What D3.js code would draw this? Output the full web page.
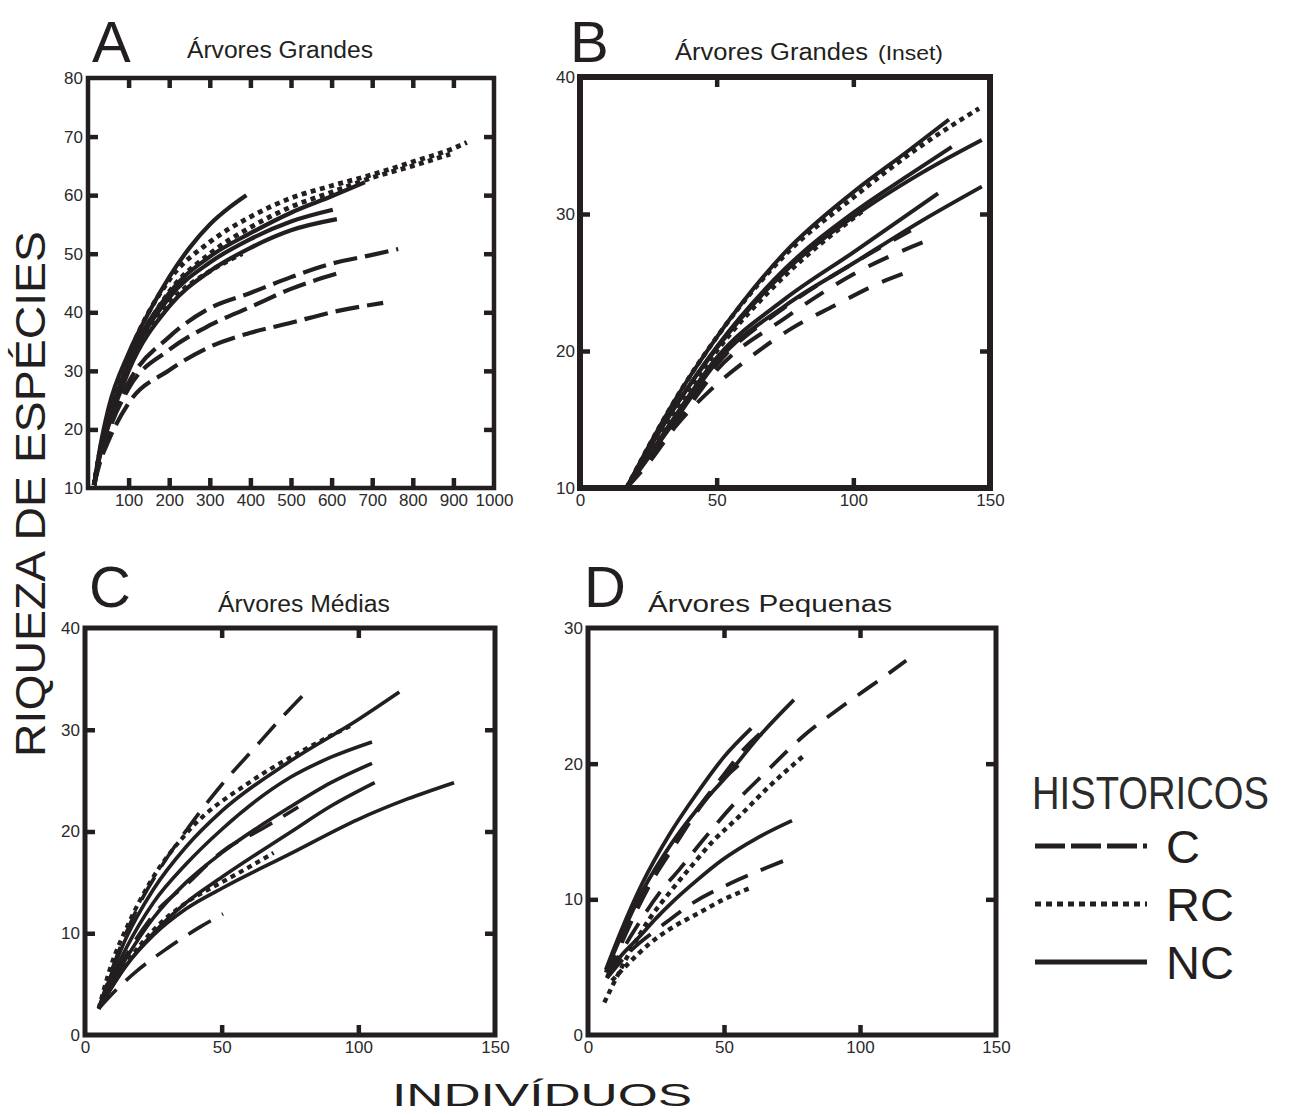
<!DOCTYPE html>
<html><head><meta charset="utf-8">
<script src="https://cdn.jsdelivr.net/npm/d3@7"></script>
<style>body{margin:0;background:#fff}svg{display:block}</style>
</head><body>
<svg id="c" width="1296" height="1116"></svg>
<script>
// ---------- DATA ----------
// group: C = dashed, RC = dotted, NC = solid
const curvesA = [
  {g:"NC", p:[[15,10.5],[30,17],[50,23.5],[100,33],[150,40],[200,46],[250,51],[300,55],[350,58],[390,60]]},
  {g:"RC", p:[[15,10.5],[30,16.5],[50,22],[100,32.5],[200,45.5],[300,52],[400,56.3],[500,59.5],[600,61.6],[700,63.5],[800,65.7],[900,68],[933,69]]},
  {g:"RC", p:[[15,10.5],[30,16.2],[50,21.5],[100,31],[200,43.5],[300,50],[400,54.5],[500,58],[600,60.5],[700,63],[800,65],[892,67]]},
  {g:"NC", p:[[15,10.5],[30,16.2],[50,21.5],[100,31.5],[200,43.3],[300,49.5],[400,53.5],[500,57],[600,59.8],[682,62.2]]},
  {g:"NC", p:[[15,10.5],[30,16],[50,21],[100,31],[200,42.5],[300,48.5],[400,52.5],[500,55.5],[603,57.5]]},
  {g:"NC", p:[[15,10.5],[30,15.7],[50,20.5],[100,30],[200,41],[300,47],[400,51],[500,54],[613,55.9]]},
  {g:"RC", p:[[15,10.5],[30,16],[50,21],[100,30.5],[200,41.5],[300,47],[380,50]]},
  {g:"C",  p:[[15,10.5],[30,15.5],[50,20],[100,28],[200,35.8],[300,40.7],[400,43.3],[500,46],[600,48.3],[700,49.8],[764,50.8]]},
  {g:"C",  p:[[15,10.5],[30,15.2],[50,19.5],[100,27],[200,33.6],[300,37.8],[400,40.9],[500,44],[628,46.9]]},
  {g:"C",  p:[[15,10.5],[30,14.5],[50,18],[100,24.5],[200,30.1],[300,34.1],[400,36.5],[500,38.2],[600,40],[727,41.6]]}
];
const curvesB = [
  {g:"RC", p:[[17,10],[25,13],[35,16.5],[50,21],[75,27],[100,31.2],[125,35],[146,37.7]]},
  {g:"NC", p:[[17,10],[25,13],[35,16.5],[50,21],[75,27.2],[100,31.6],[120,34.6],[135,36.9]]},
  {g:"NC", p:[[17,10],[25,12.8],[35,16],[50,20.3],[75,26],[100,30.1],[120,32.8],[136,34.9]]},
  {g:"NC", p:[[17,10],[25,12.8],[35,16],[50,20.2],[75,25.8],[100,29.8],[125,33],[147,35.4]]},
  {g:"RC", p:[[17,10],[25,12.7],[35,15.8],[50,20],[75,25.5],[104,30.3]]},
  {g:"NC", p:[[17,10],[25,12.3],[35,15.3],[50,19.5],[75,23.8],[100,27.2],[131,31.5]]},
  {g:"NC", p:[[17,10],[25,12.2],[35,15],[50,19.2],[75,23.3],[100,26.4],[125,29.5],[147,32]]},
  {g:"C",  p:[[17,10],[25,12],[35,14.8],[50,19],[75,23.2],[100,26.4],[121,28.8]]},
  {g:"C",  p:[[17,10],[25,12],[35,14.6],[50,18.6],[75,22.4],[100,25.6],[130,28.3]]},
  {g:"C",  p:[[17,10],[25,11.8],[35,14.5],[48,17.2],[62,19.5],[77,21.6],[93,23.3],[110,25],[119,25.7]]}
];
const curvesC = [
  {g:"C",  p:[[5,2.6],[12,8],[19.4,12.6],[28,16.6],[38.4,20.6],[49.4,24.4],[62,28.2],[72,31.2],[81.6,33.9]]},
  {g:"RC", p:[[5,2.6],[9,6.4],[16,11],[23.8,15],[38.4,20.2],[60,24.8],[80,28],[98,30.5]]},
  {g:"NC", p:[[5,2.6],[15,9.5],[25,14.3],[37,18.5],[50,22],[75,26.9],[100,31],[115,33.7]]},
  {g:"NC", p:[[5,2.6],[15,8.5],[25,13],[37,16.8],[50,20.2],[75,25.3],[90,27.3],[105,28.8]]},
  {g:"NC", p:[[5,2.6],[15,7.5],[25,11.5],[37,15],[50,17.9],[75,22.4],[90,24.8],[105,26.7]]},
  {g:"NC", p:[[5,2.6],[15,6.8],[25,10],[37,13],[50,15.5],[75,19.9],[90,22.5],[106,24.8]]},
  {g:"NC", p:[[5,2.6],[15,6.8],[25,9.8],[37,12.4],[50,14.4],[75,17.8],[100,21.2],[118,23.2],[135,24.8]]},
  {g:"C",  p:[[5,2.6],[15,7.8],[25,11.8],[38,15],[50,18],[65,20.3],[78,22.4]]},
  {g:"RC", p:[[5,2.6],[15,7],[25,10.3],[37,13],[50,15],[60,16.5],[69,17.9]]},
  {g:"C",  p:[[5,2.6],[12,4.6],[19,6.3],[30,8.5],[42,10.6],[50.5,11.9]]}
];
const curvesD = [
  {g:"C",  p:[[7,4.3],[17,7.7],[26,10.4],[34,12.3],[42,14.3],[54,17.1],[65,19.3],[79,22],[94,24.3],[109.5,26.5],[117,27.6]]},
  {g:"NC", p:[[6.5,4.8],[12,7.6],[20,11.2],[30,14.8],[40,17.8],[50,20.5],[60,22.6]]},
  {g:"NC", p:[[6.5,4.6],[12,7.2],[20,10.6],[30,13.9],[40,16.6],[50.6,19],[62.9,22],[75.7,24.7]]},
  {g:"C",  p:[[7,4.2],[12,6.8],[20,10.1],[30,13.6],[40,16.6],[50,19.2],[57,21],[65.4,22.6]]},
  {g:"C",  p:[[7,4.2],[14,7.5],[22,10.8],[32,14],[42,17],[50,18.9],[59,20.5]]},
  {g:"RC", p:[[6,2.4],[14,5.6],[22.4,8.5],[30,10.5],[37,12.2],[46,14.3],[55.5,16.1],[67,18.4],[79.4,20.6]]},
  {g:"NC", p:[[7.7,4.6],[12,5.8],[18.7,7.2],[25,8.6],[31,9.8],[40,11.4],[49.3,12.9],[62,14.5],[75,15.8]]},
  {g:"C",  p:[[7,4.2],[16.2,6.3],[26.8,8],[38.3,9.7],[52.6,11.2],[66.5,12.4],[74,13]]},
  {g:"RC", p:[[8.8,4],[15,5.3],[22.4,6.7],[30,7.8],[40.8,9],[50,10],[59.2,10.8]]}
];

// axis ticks and labels
const ticksA_x = [100,200,300,400,500,600,700,800,900];
const labelsA_x = [100,200,300,400,500,600,700,800,900,1000];
const ticksA_y = [20,30,40,50,60,70];
const labelsA_y = [10,20,30,40,50,60,70,80];
const ticksB_x = [50,100], labelsB_x = [0,50,100,150];
const ticksB_y = [20,30], labelsB_y = [10,20,30,40];
const ticksC_x = [50,100], labelsC_x = [0,50,100,150];
const ticksC_y = [10,20,30], labelsC_y = [0,10,20,30,40];
const ticksD_x = [50,100], labelsD_x = [0,50,100,150];
const ticksD_y = [10,20], labelsD_y = [0,10,20,30];

const legendGroups = ["C","RC","NC"];
const legendTitle = "HISTORICOS";
const yTitle = "RIQUEZA DE ESPÉCIES";
const xTitle = "INDIVÍDUOS";

// ---------- DRAW ----------
const INK = "#231f20";
const FONT = "'Liberation Sans', Arial, Helvetica, sans-serif";
const svg = d3.select("#c");

const panels = [
  {id:"A", title:"Árvores Grandes", curves:curvesA, xd:[0,1000], yd:[10,80],
   box:[88,78,494,488], frame:4.5, xt:ticksA_x, xl:labelsA_x, yt:ticksA_y, yl:labelsA_y,
   sw:4.2, dash:"24,8", dot:"5,4.5",
   letter:[92,62], titlePos:[187,58], titleLen:186},
  {id:"B", title:"Árvores Grandes", sub:"(Inset)", curves:curvesB, xd:[0,150], yd:[10,40],
   box:[580,77,990,488], frame:6, xt:ticksB_x, xl:labelsB_x, yt:ticksB_y, yl:labelsB_y,
   sw:4, dash:"22,15", dot:"5,4.5",
   letter:[570,62], titlePos:[675,60], titleLen:193},
  {id:"C", title:"Árvores Médias", curves:curvesC, xd:[0,150], yd:[0,40],
   box:[85,628,495,1035], frame:5, xt:ticksC_x, xl:labelsC_x, yt:ticksC_y, yl:labelsC_y,
   sw:3.6, dash:"26,13", dot:"5,4.5",
   letter:[89,607], titlePos:[218,612], titleLen:172},
  {id:"D", title:"Árvores Pequenas", curves:curvesD, xd:[0,150], yd:[0,30],
   box:[588,628,996,1035], frame:5, xt:ticksD_x, xl:labelsD_x, yt:ticksD_y, yl:labelsD_y,
   sw:3.8, dash:"24,14", dot:"5,4.5",
   letter:[584,607], titlePos:[648,612], titleLen:244}
];

function drawPanel(P){
  const [x0,y0,x1,y1] = P.box;
  const x = d3.scaleLinear().domain(P.xd).range([x0,x1]);
  const y = d3.scaleLinear().domain(P.yd).range([y1,y0]);
  const g = svg.append("g").attr("class","panel-"+P.id);

  const clip = "clip"+P.id;
  g.append("clipPath").attr("id",clip).append("rect")
    .attr("x",x0).attr("y",y0).attr("width",x1-x0).attr("height",y1-y0);

  const line = d3.line().x(d=>x(d[0])).y(d=>y(d[1])).curve(d3.curveMonotoneX);
  g.append("g").attr("clip-path",`url(#${clip})`)
   .selectAll("path").data(P.curves).join("path")
    .attr("d", d=>line(d.p))
    .attr("fill","none").attr("stroke",INK)
    .attr("stroke-width", d=> d.g==="RC" ? P.sw+0.6 : P.sw)
    .attr("stroke-linecap","butt")
    .attr("stroke-dasharray", d=> d.g==="C" ? P.dash : d.g==="RC" ? P.dot : null);

  // inner ticks on all four sides
  const tl = 10;
  const tickStyle = sel => { sel.select(".domain").remove();
    sel.selectAll("line").attr("stroke",INK).attr("stroke-width",4.5); sel.selectAll("text").remove(); };
  g.append("g").attr("transform",`translate(0,${y1})`)
    .call(d3.axisBottom(x).tickValues(P.xt).tickSize(-tl).tickFormat("")).call(tickStyle);
  g.append("g").attr("transform",`translate(0,${y0})`)
    .call(d3.axisTop(x).tickValues(P.xt).tickSize(-tl).tickFormat("")).call(tickStyle);
  g.append("g").attr("transform",`translate(${x0},0)`)
    .call(d3.axisLeft(y).tickValues(P.yt).tickSize(-tl).tickFormat("")).call(tickStyle);
  g.append("g").attr("transform",`translate(${x1},0)`)
    .call(d3.axisRight(y).tickValues(P.yt).tickSize(-tl).tickFormat("")).call(tickStyle);

  // frame
  g.append("rect").attr("x",x0).attr("y",y0).attr("width",x1-x0).attr("height",y1-y0)
    .attr("fill","none").attr("stroke",INK).attr("stroke-width",P.frame);

  // tick labels
  const lab = sel => { sel.select(".domain").remove(); sel.selectAll("line").remove();
    sel.selectAll("text").attr("fill","#2a2a2a").style("font-family",FONT).style("font-size","17px"); };
  g.append("g").attr("transform",`translate(0,${y1})`)
    .call(d3.axisBottom(x).tickValues(P.xl).tickSize(0).tickPadding(6).tickFormat(d3.format("d"))).call(lab);
  g.append("g").attr("transform",`translate(${x0},0)`)
    .call(d3.axisLeft(y).tickValues(P.yl).tickSize(0).tickPadding(5).tickFormat(d3.format("d"))).call(lab);

  // panel letter & title
  g.append("text").attr("x",P.letter[0]).attr("y",P.letter[1]).text(P.id)
    .attr("fill",INK).style("font-family",FONT).style("font-size","58px");
  g.append("text").attr("x",P.titlePos[0]).attr("y",P.titlePos[1]).text(P.title)
    .attr("textLength",P.titleLen).attr("lengthAdjust","spacingAndGlyphs")
    .attr("fill",INK).style("font-family",FONT).style("font-size","23px");
  if(P.sub){
    g.append("text").attr("x",P.titlePos[0]+P.titleLen+10).attr("y",P.titlePos[1]).text(P.sub)
      .attr("textLength",65).attr("lengthAdjust","spacingAndGlyphs")
      .attr("fill",INK).style("font-family",FONT).style("font-size","20px");
  }
}
panels.forEach(drawPanel);

// axis titles
svg.append("text").attr("transform","translate(45,494) rotate(-90)")
  .attr("text-anchor","middle").text(yTitle)
  .attr("textLength",526).attr("lengthAdjust","spacingAndGlyphs")
  .attr("fill",INK).style("font-family",FONT).style("font-size","42px");
svg.append("text").attr("x",392).attr("y",1106).text(xTitle)
  .attr("textLength",300).attr("lengthAdjust","spacingAndGlyphs")
  .attr("fill",INK).style("font-family",FONT).style("font-size","31px");

// legend
const lg = svg.append("g").attr("class","legend");
lg.append("text").attr("transform","translate(1032,809) scale(0.83,1)").text(legendTitle)
  .attr("fill","#2b2b2b").style("font-family",FONT).style("font-size","46px");
const ly = d3.scalePoint().domain(legendGroups).range([846,962]);
const lgStyle = {C:"30,6", RC:"6,5", NC:null};
lg.selectAll("line.k").data(legendGroups).join("line").attr("class","k")
  .attr("x1",1035).attr("x2",1147).attr("y1",d=>ly(d)).attr("y2",d=>ly(d))
  .attr("stroke",INK).attr("stroke-width",5)
  .attr("stroke-dasharray",d=>lgStyle[d]);
lg.selectAll("text.k").data(legendGroups).join("text").attr("class","k")
  .attr("x",1166).attr("y",d=>ly(d)+17).text(d=>d)
  .attr("fill",INK).style("font-family",FONT).style("font-size","47px");
</script>
</body></html>
